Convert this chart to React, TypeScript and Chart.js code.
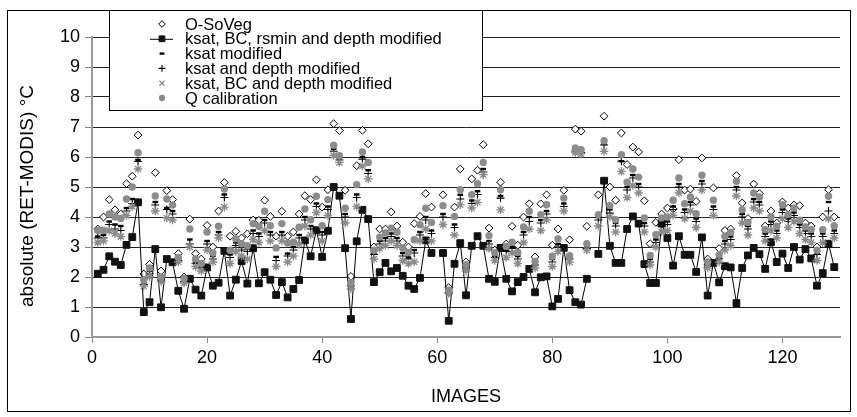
import React, { useEffect, useRef } from 'react';
import { Chart, registerables } from 'chart.js';
import { drawPoint } from 'chart.js/helpers';

Chart.register(...registerables);

// Values per image (image number = index + 1); null = no value
const O_SOVEG = [3.6,4.0,4.58,4.24,4.1,5.11,5.36,6.73,2.1,2.42, 5.48,2.2,4.88,4.58,2.78,2.0,3.93,2.78,2.6,3.72, 3.0,4.2,5.15,3.36,3.52,3.3,3.44,3.9,3.89,4.56, 4.02,3.36,4.19,3.36,3.5,4.1,4.71,4.58,5.24,4.33, 4.91,7.11,6.88,4.89,2.02,5.71,6.89,6.44,3.0,3.6, 3.6,4.17,3.7,3.16,3.0,3.78,4.02,4.78,4.33,null, 4.74,1.65,4.33,5.6,2.5,5.27,5.56,6.41,3.63,2.9, 5.16,3.1,3.69,3.06,4.0,4.44,2.67,4.44,4.74,3.06, 3.6,4.89,3.24,6.93,6.86,3.69,null,4.74,7.36,5.0, 4.56,6.8,5.75,6.33,6.17,4.54,3.11,3.82,4.1,4.3, 4.27,5.91,4.9,4.93,4.52,5.97,2.6,4.97,2.95,3.55, 3.6,5.38,4.47,3.95,5.1,4.78,3.7,4.2,3.8,4.5, 4.3,4.4,4.38,3.8,3.7,3.0,4.0,4.91,4.0];
const KSAT_BC_RSMIN_DEPTH = [2.11,2.24,2.69,2.51,2.4,3.07,3.33,4.49,0.83,1.16, 2.93,0.99,2.6,2.49,1.54,0.94,1.94,1.58,1.38,2.32, 1.71,1.81,2.87,1.38,1.91,2.53,1.78,2.96,1.79,2.16, 1.91,1.4,1.83,1.32,1.6,1.9,3.22,2.69,3.56,2.67, 3.54,5.0,4.71,2.96,0.6,3.19,4.24,3.93,1.83,2.16, 2.47,2.19,2.3,2.04,1.71,1.6,1.97,3.22,2.8,null, 2.8,0.54,2.44,3.13,1.39,3.04,3.36,3.04,1.94,1.84, 2.97,1.94,1.52,1.83,2.0,2.27,1.49,1.99,2.02,1.02, 1.27,2.97,1.56,1.16,1.08,1.94,null,2.77,5.21,3.04, 2.47,2.47,3.6,4.02,3.78,2.43,1.8,1.8,3.78,3.3, 2.38,3.36,2.74,2.74,2.17,3.32,1.38,2.47,1.82,2.36, 2.32,1.13,2.3,2.72,2.97,2.76,2.27,3.16,2.5,2.78, 2.3,3.0,2.58,2.93,2.62,1.71,2.13,3.11,2.33];
const KSAT = [3.35,3.4,3.85,3.75,3.7,4.3,4.6,5.9,1.8,2.2, 4.5,1.95,4.3,4.2,2.6,1.9,3.25,2.5,2.35,3.2, 2.7,3.5,4.75,2.75,3.15,3.0,2.95,3.55,3.45,3.9, 3.5,2.67,3.5,2.78,3.0,3.4,4.0,3.7,4.45,3.5, 4.35,6.27,5.95,4.1,1.75,4.75,6.0,5.56,2.8,3.2, 3.3,3.45,3.3,2.8,2.65,2.9,3.5,4.0,3.55,null, 4.1,1.5,3.75,4.74,2.35,4.55,4.86,5.6,3.2,2.7, 4.7,2.9,3.0,2.7,3.5,4.0,2.45,3.9,4.2,2.6, 3.1,4.45,2.65,6.25,6.2,3.0,null,4.0,6.45,4.25, 3.8,5.86,5.0,5.4,5.1,3.8,2.6,3.25,3.8,3.85, 4.35,5.1,4.25,4.5,3.95,5.2,2.45,4.35,2.65,3.2, 3.35,5.0,4.1,3.7,4.6,4.5,3.45,3.85,3.55,4.25, 3.95,4.15,3.75,3.55,3.45,2.8,3.45,4.5,3.55];
const KSAT_DEPTH = [3.3,3.3,3.75,3.6,3.55,4.2,4.45,5.85,1.75,2.1, 4.4,1.9,4.25,4.1,2.55,1.85,3.1,2.45,2.3,3.1, 2.6,3.4,4.65,2.65,3.05,2.9,2.85,3.45,3.35,3.8, 3.4,2.55,3.4,2.7,2.9,3.3,3.9,3.6,4.35,3.4, 4.25,6.19,5.9,4.0,1.7,4.65,5.93,5.45,2.75,3.1, 3.2,3.35,3.2,2.7,2.6,2.8,3.4,3.9,3.45,null, 4.0,1.48,3.65,4.6,2.3,4.45,4.75,5.5,3.1,2.65, 4.63,2.85,2.95,2.6,3.4,3.85,2.4,3.8,4.1,2.5, 3.0,4.35,2.6,6.2,6.15,2.95,null,3.9,6.4,4.13, 3.7,5.86,4.9,5.3,5.0,3.7,2.5,3.15,3.7,3.75, 4.25,5.0,4.15,4.4,3.85,5.1,2.4,4.25,2.6,3.1, 3.25,4.9,4.0,3.6,4.5,4.4,3.35,3.75,3.45,4.15, 3.85,4.05,3.65,3.45,3.35,2.75,3.35,4.2,3.45];
const KSAT_BC_DEPTH = [3.15,3.2,3.55,3.45,3.35,4.05,4.35,5.6,1.7,2.0, 4.2,1.85,3.97,3.9,2.5,1.8,3.0,2.35,2.2,2.9, 2.5,3.3,4.33,2.45,2.85,2.7,2.6,3.25,3.15,3.55, 3.2,2.35,3.2,2.5,2.7,3.1,3.7,3.4,4.15,3.2, 4.05,6.05,5.82,3.8,1.6,4.35,5.7,5.27,2.6,2.95, 3.05,3.2,3.05,2.55,2.45,2.5,3.2,3.6,3.2,null, 3.75,1.45,3.4,4.41,2.2,4.3,4.49,5.41,2.95,2.55, 4.24,2.65,2.8,2.45,3.15,3.6,2.3,3.55,3.9,2.35, 2.85,4.2,2.5,6.15,6.1,2.9,null,3.7,6.19,4.0, 3.5,5.52,4.65,5.05,4.8,3.5,2.4,3.0,3.5,3.55, 4.05,4.8,3.95,4.2,3.65,4.9,2.3,4.05,2.5,2.9, 3.05,4.7,3.8,3.4,4.3,4.2,3.2,3.55,3.3,3.95, 3.65,3.85,3.45,3.25,3.15,2.55,3.15,3.95,3.3];
const Q_CALIBRATION = [3.55,3.55,4.1,4.0,3.95,4.6,5.0,6.14,1.9,2.3, 4.7,2.0,4.6,4.4,2.65,1.95,3.6,2.6,2.45,3.5, 2.8,3.69,4.93,2.89,3.27,3.11,3.04,3.78,3.69,4.19, 3.71,2.97,3.78,3.13,3.16,3.66,4.27,3.91,4.69,3.71, 4.58,6.39,6.04,4.29,1.8,5.08,6.17,5.82,2.89,3.33, 3.47,3.63,3.49,2.97,2.82,3.24,3.74,4.29,3.82,null, 4.38,1.56,4.02,4.91,2.41,4.74,5.11,5.82,3.38,2.81, 4.91,3.02,3.16,2.82,3.67,4.19,2.52,4.08,4.41,2.69, 3.27,4.63,2.71,6.3,6.24,3.11,null,4.08,6.54,4.38, 3.91,6.08,5.16,5.6,5.33,3.97,2.72,3.41,3.97,4.0, 4.56,5.3,4.44,4.67,4.11,5.39,2.5,4.56,2.74,3.36, 3.49,5.19,4.24,3.82,4.8,4.67,3.58,4.0,3.69,4.41, 4.08,4.3,3.89,3.67,3.58,2.89,3.58,4.69,3.71];

const SERIES_LABELS = [
  'O-SoVeg',
  'ksat, BC, rsmin and depth modified',
  'ksat modified',
  'ksat and depth modified',
  'ksat, BC and depth modified',
  'Q calibration',
];
const X_TICKS = [0, 20, 40, 60, 80, 100, 120];
const X_TITLE = 'IMAGES';
const Y_TITLE = 'absolute (RET-MODIS) °C';

const FONT = "'Liberation Sans', Arial, sans-serif";

const STYLES = [
  { pointStyle: 'rectRot', radius: 3.9, backgroundColor: '#ffffff', borderColor: '#000000', borderWidth: 1 },
  { pointStyle: 'rect', radius: 4.8, backgroundColor: '#111111', borderColor: '#111111', borderWidth: 1 },
  { pointStyle: 'line', radius: 2.8, backgroundColor: '#000000', borderColor: '#000000', borderWidth: 2.4 },
  { pointStyle: 'cross', radius: 4, backgroundColor: '#000000', borderColor: '#000000', borderWidth: 1.1 },
  { pointStyle: 'star', radius: 4.3, backgroundColor: '#8a8a8a', borderColor: '#8a8a8a', borderWidth: 1.3 },
  { pointStyle: 'circle', radius: 3.7, backgroundColor: '#8c8c8c', borderColor: '#8c8c8c', borderWidth: 0 },
];

const overlay = {
  id: 'overlay',
  beforeDraw(chart: any) {
    const ctx = chart.ctx;
    ctx.save();
    ctx.fillStyle = '#ffffff';
    ctx.fillRect(0, 0, chart.width, chart.height);
    ctx.restore();
  },
  afterDraw(chart: any) {
    const ctx = chart.ctx;
    ctx.save();
    // outer border
    ctx.strokeStyle = '#000';
    ctx.lineWidth = 1;
    ctx.strokeRect(7.5, 10.5, 843, 401);
    // legend box
    ctx.fillStyle = '#fff';
    ctx.fillRect(109.5, 10.5, 373, 100);
    ctx.strokeRect(109.5, 10.5, 373, 100);
    ctx.font = `16.5px ${FONT}`;
    ctx.textBaseline = 'middle';
    ctx.textAlign = 'left';
    SERIES_LABELS.forEach((label, i) => {
      const y = 24 + i * 14.8;
      const st: any = STYLES[i];
      if (i === 1) {
        ctx.strokeStyle = '#000';
        ctx.lineWidth = 1;
        ctx.beginPath();
        ctx.moveTo(150, y + 0.5);
        ctx.lineTo(173, y + 0.5);
        ctx.stroke();
      }
      ctx.fillStyle = st.backgroundColor;
      ctx.strokeStyle = st.borderColor;
      ctx.lineWidth = st.borderWidth;
      const legendStyle = i === 4 ? 'crossRot' : st.pointStyle;
      drawPoint(ctx, { pointStyle: legendStyle, radius: i === 0 ? 3.3 : st.radius * 0.85, rotation: 0, borderWidth: st.borderWidth }, 162, y);
      ctx.fillStyle = '#000';
      ctx.fillText(label, 185, y + 1);
    });
    // axis titles
    ctx.fillStyle = '#000';
    ctx.font = `18px ${FONT}`;
    ctx.textAlign = 'center';
    ctx.textBaseline = 'middle';
    ctx.fillText(X_TITLE, 466, 397);
    ctx.font = `19px ${FONT}`;
    ctx.translate(28, 196);
    ctx.rotate(-Math.PI / 2);
    ctx.fillText(Y_TITLE, 0, 0);
    ctx.restore();
  },
};

export default function App() {
  const ref = useRef<HTMLCanvasElement>(null);
  useEffect(() => {
    document.body.style.margin = '0';
    const all = [O_SOVEG, KSAT_BC_RSMIN_DEPTH, KSAT, KSAT_DEPTH, KSAT_BC_DEPTH, Q_CALIBRATION];
    const toPts = (arr: (number | null)[]) => arr.map((v, i) => ({ x: i + 1, y: v }));
    const orders = [6, 5, 4, 3, 2, 1];
    const datasets = all.map((arr, i) => {
      const st: any = STYLES[i];
      return {
        label: SERIES_LABELS[i],
        data: toPts(arr),
        showLine: i === 1,
        spanGaps: false,
        borderColor: '#000000',
        borderWidth: 1,
        backgroundColor: st.backgroundColor,
        pointStyle: st.pointStyle,
        pointRadius: st.radius,
        pointBackgroundColor: st.backgroundColor,
        pointBorderColor: st.borderColor,
        pointBorderWidth: st.borderWidth,
        order: orders[i],
      };
    });
    const chart = new Chart(ref.current as HTMLCanvasElement, {
      type: 'scatter',
      data: { datasets: datasets as any },
      options: {
        responsive: false,
        animation: false,
        layout: { padding: { left: 0, right: 17, top: 37, bottom: 0 } },
        plugins: { legend: { display: false }, tooltip: { enabled: false } },
        scales: {
          x: {
            type: 'linear',
            min: 0,
            max: 130,
            afterBuildTicks: (s: any) => {
              s.ticks = X_TICKS.map((v) => ({ value: v }));
            },
            afterFit: (s: any) => {
              s.height = 80;
            },
            ticks: { stepSize: 20, color: '#000', font: { family: FONT, size: 18 }, padding: 4, maxRotation: 0 },
            grid: { drawOnChartArea: false, drawTicks: true, tickLength: 6, tickColor: '#888', tickWidth: 1 },
            border: { color: '#999', width: 2 },
          },
          y: {
            min: 0,
            max: 10,
            afterFit: (s: any) => {
              s.width = 92;
            },
            ticks: { stepSize: 1, color: '#000', font: { family: FONT, size: 18 }, padding: 5 },
            grid: { color: '#222', lineWidth: 1, drawTicks: true, tickLength: 7, tickColor: '#888', tickWidth: 1 },
            border: { color: '#999', width: 2 },
          },
        },
      } as any,
      plugins: [overlay],
    });
    return () => chart.destroy();
  }, []);
  return <canvas ref={ref} width={857} height={417} style={{ display: 'block' }} />;
}
